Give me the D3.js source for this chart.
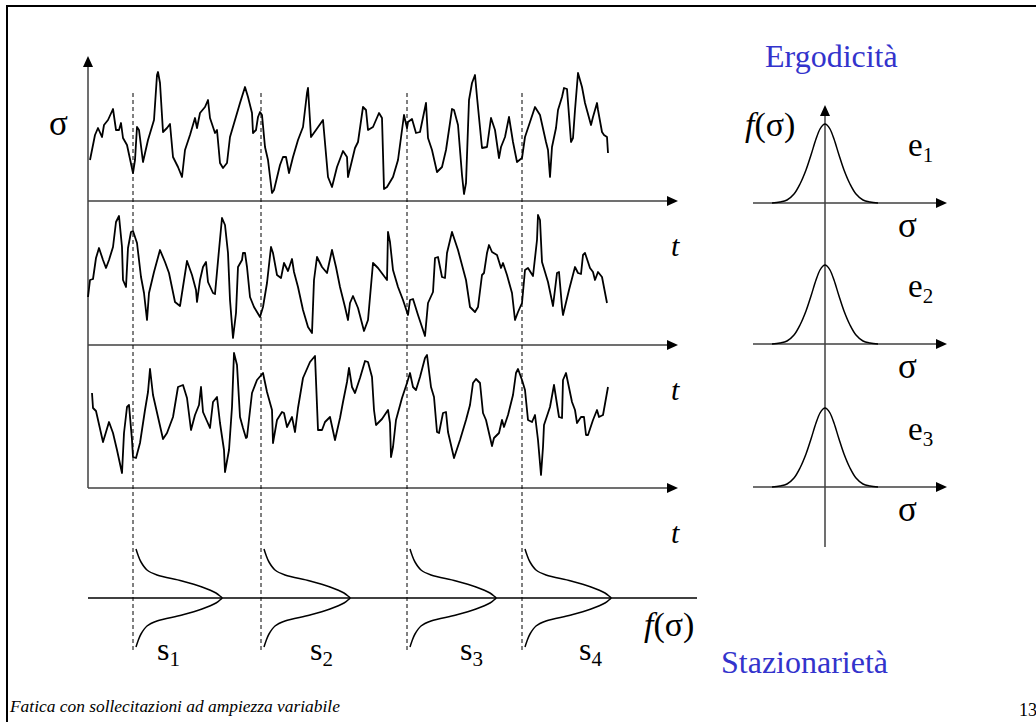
<!DOCTYPE html>
<html>
<head>
<meta charset="utf-8">
<script src="https://cdn.jsdelivr.net/npm/d3@7"></script>
<style>
  body { margin: 0; background: #fff; }
</style>
</head>
<body>
<div class="Graph"></div>
<script>
// signal samples: [t, sigma]
var signal1 = [[2,41],[7,66],[10,73],[14,64],[16,76],[20,81],[25,92],[28,71],[31,71],[33,78],[35,63],[39,56],[45,28],[47,41],[49,74],[51,71],[55,39],[60,61],[66,81],[69,126],[70,129],[72,118],[75,69],[79,73],[82,77],[85,44],[90,34],[94,24],[97,51],[102,66],[107,83],[109,73],[112,88],[117,94],[120,101],[122,83],[127,68],[129,71],[132,38],[135,33],[139,38],[142,64],[147,81],[152,98],[157,114],[160,104],[164,88],[165,68],[168,71],[170,84],[172,89],[174,86],[177,54],[180,41],[184,8],[186,11],[192,36],[195,44],[198,44],[201,28],[205,44],[210,61],[215,74],[219,108],[220,113],[223,64],[228,71],[235,81],[240,24],[244,14],[249,34],[255,50],[259,44],[260,24],[267,53],[270,59],[275,94],[278,91],[280,71],[285,74],[291,88],[294,83],[296,12],[299,14],[305,24],[310,41],[316,86],[319,73],[320,79],[324,82],[328,68],[332,69],[338,98],[340,63],[344,51],[349,29],[354,34],[358,51],[362,78],[364,92],[366,91],[370,76],[374,26],[376,7],[378,18],[381,101],[384,118],[387,126],[389,104],[394,53],[399,54],[403,83],[407,71],[411,43],[413,54],[417,64],[421,84],[425,59],[429,39],[434,43],[437,64],[440,73],[447,94],[452,86],[458,59],[460,51],[462,24],[464,54],[468,73],[470,91],[474,104],[476,113],[479,112],[483,59],[485,63],[487,91],[490,128],[494,114],[497,98],[503,76],[505,84],[509,98],[510,91],[514,69],[516,66],[519,64],[520,48]];

var signal2 = [[0,48],[2,65],[5,66],[8,87],[11,97],[15,85],[18,77],[21,85],[25,98],[28,123],[31,129],[34,98],[35,65],[38,58],[40,97],[43,113],[45,114],[49,102],[53,68],[56,52],[59,25],[61,52],[66,73],[72,95],[77,83],[81,72],[87,43],[92,39],[99,84],[104,70],[108,55],[109,43],[112,65],[115,78],[118,83],[120,63],[125,52],[127,51],[131,95],[134,127],[137,120],[140,92],[142,45],[145,7],[148,32],[150,78],[154,85],[155,92],[157,92],[159,78],[162,48],[166,38],[172,28],[175,38],[179,62],[183,98],[185,92],[189,70],[193,67],[196,82],[200,74],[204,86],[206,73],[210,58],[215,35],[220,18],[224,12],[226,65],[229,88],[234,78],[239,72],[244,95],[248,78],[252,58],[257,38],[260,25],[262,42],[265,49],[270,37],[276,14],[280,25],[285,82],[290,77],[299,65],[300,113],[302,103],[305,75],[310,58],[315,45],[320,30],[322,45],[325,46],[330,30],[337,9],[340,42],[345,53],[347,87],[350,88],[354,68],[357,67],[359,92],[364,113],[370,95],[378,65],[382,38],[387,33],[390,38],[394,70],[396,72],[399,92],[401,100],[404,93],[409,90],[413,77],[415,82],[419,70],[424,52],[427,25],[430,33],[434,42],[437,75],[440,77],[445,69],[449,105],[450,130],[452,125],[454,83],[460,63],[465,39],[469,72],[471,73],[474,38],[475,30],[481,55],[487,78],[490,72],[493,71],[495,90],[497,92],[502,77],[505,73],[507,65],[510,73],[514,68],[519,42]];

var signal3 = [[4,95],[5,80],[8,77],[15,46],[21,66],[25,55],[29,38],[34,15],[36,55],[39,81],[41,83],[44,48],[45,31],[48,30],[52,45],[57,78],[60,96],[62,119],[65,93],[70,71],[75,49],[79,55],[85,71],[90,101],[95,103],[99,90],[103,58],[107,73],[111,83],[113,101],[115,76],[122,60],[125,86],[129,91],[132,65],[136,38],[137,16],[141,38],[144,81],[146,135],[149,123],[152,71],[155,60],[158,50],[159,51],[164,95],[169,108],[175,115],[179,96],[184,78],[185,45],[189,68],[194,76],[196,75],[199,61],[204,71],[207,56],[210,80],[215,110],[222,126],[227,132],[230,58],[234,58],[237,66],[242,71],[247,48],[252,70],[255,86],[259,106],[261,120],[264,101],[267,95],[272,110],[277,127],[280,126],[284,111],[286,78],[288,63],[294,69],[300,78],[302,65],[303,31],[305,41],[308,68],[314,90],[319,105],[322,115],[325,101],[328,98],[332,111],[337,130],[339,133],[343,101],[346,91],[349,56],[351,55],[355,75],[358,76],[360,56],[366,30],[372,48],[378,68],[382,83],[385,105],[388,109],[392,105],[395,75],[398,68],[401,55],[404,42],[406,50],[411,55],[414,68],[416,61],[420,73],[425,93],[428,115],[430,119],[434,108],[437,98],[440,68],[444,66],[447,73],[450,48],[453,13],[455,41],[456,63],[462,81],[466,103],[471,71],[474,70],[475,108],[478,115],[484,86],[487,78],[489,65],[493,71],[496,71],[498,53],[500,53],[505,68],[509,78],[511,71],[515,73],[520,101]];

var signals = [signal1, signal2, signal3];

// sampling instants (t) of the dashed lines and their labels
var sampleTimes = [45, 173, 319, 434];
var sampleLabels = ["1", "2", "3", "4"];

// ensemble density profile (stationarity), sigma offset vs f
var statSigma = [49, 43, 36, 28, 23, 17, 11, 5, 2, 0, -2, -5, -11, -17, -23, -28, -36, -43, -49];
var statDensity = [3, 5, 8, 14, 24, 49, 69, 83, 87, 89, 87, 83, 69, 49, 24, 14, 8, 5, 3];

// time density profile (ergodicity), sigma offset vs f
var ergoSigma = [-53, -45, -38, -31, -25, -19, -14, -9, -5, -2, 0, 2, 5, 9, 14, 19, 25, 31, 38, 45, 53];
var ergoDensity = [0, 1, 3, 9, 19, 33, 48, 64, 74, 78, 79, 78, 74, 64, 48, 33, 19, 9, 3, 1, 0];
var ergoLabels = ["1", "2", "3"];

var W = 1036, H = 722;
var axisCol = "#404040";
var blue = "#3333cc";
var serif = "'Liberation Serif', 'Times New Roman', serif";

var svg = d3.select(".Graph")
    .append("svg")
    .attr("width", W)
    .attr("height", H)
    .attr("font-family", serif)
    .style("display", "block");

svg.append("rect").attr("width", W).attr("height", H).attr("fill", "#fff");

// slide frame
svg.append("path")
    .attr("d", "M7," + H + "V6H" + W)
    .attr("fill", "none")
    .attr("stroke", "#000")
    .attr("stroke-width", 2);

//====================================================================//
// left: three sample functions
var panelY = [201, 345, 488];

var x = d3.scaleLinear().domain([0, 590]).range([88, 678]);

function arrowRight(g, xe, y, col) {
    g.append("path")
        .attr("d", "M" + xe + "," + y + "l-11,-5v10z")
        .attr("fill", col);
}
function arrowUp(g, xc, ye, col) {
    g.append("path")
        .attr("d", "M" + xc + "," + ye + "l-5,11h10z")
        .attr("fill", col);
}

// vertical sigma axis
svg.append("line")
    .attr("x1", 88).attr("x2", 88)
    .attr("y1", 64).attr("y2", panelY[2])
    .attr("stroke", axisCol).attr("stroke-width", 1.5);
arrowUp(svg, 88, 56, "#000");

svg.append("text")
    .attr("x", 49).attr("y", 135)
    .attr("font-size", 35)
    .text("σ");

signals.forEach(function (s, i) {
    var y = d3.scaleLinear().domain([0, 140]).range([panelY[i], panelY[i] - 140]);

    svg.append("line")
        .attr("x1", 88).attr("x2", 668)
        .attr("y1", panelY[i]).attr("y2", panelY[i])
        .attr("stroke", axisCol).attr("stroke-width", 1.5);
    arrowRight(svg, 678, panelY[i], "#000");

    svg.append("path")
        .datum(s)
        .attr("fill", "none")
        .attr("stroke", "#000")
        .attr("stroke-width", 1.8)
        .attr("stroke-linejoin", "round")
        .attr("d", d3.line().x(d => x(d[0])).y(d => y(d[1])));

    svg.append("text")
        .attr("x", 671).attr("y", panelY[i] + 55)
        .attr("font-size", 30)
        .attr("font-style", "italic")
        .text("t");
});

// dashed sampling lines
svg.selectAll(".sample")
    .data(sampleTimes)
    .enter()
    .append("line")
    .attr("class", "sample")
    .attr("x1", d => x(d)).attr("x2", d => x(d))
    .attr("y1", 93).attr("y2", 650)
    .attr("stroke", "#000")
    .attr("stroke-width", 1)
    .attr("stroke-dasharray", "4,3");

//====================================================================//
// bottom: densities across the ensemble
var statY = 598;
var fx = d3.scaleLinear().domain([0, 89]).range([0, 89]);
var sy = d3.scaleLinear().domain([-49, 49]).range([statY + 49, statY - 49]);

svg.append("line")
    .attr("x1", 88).attr("x2", 697)
    .attr("y1", statY).attr("y2", statY)
    .attr("stroke", "#000").attr("stroke-width", 1.5);

var statPts = statSigma.map((s, i) => [s, statDensity[i]]);
sampleTimes.forEach(function (t, k) {
    svg.append("path")
        .datum(statPts)
        .attr("fill", "none")
        .attr("stroke", "#000")
        .attr("stroke-width", 1.5)
        .attr("d", d3.line()
            .curve(d3.curveCatmullRom.alpha(0.5))
            .x(d => x(t) + fx(d[1]))
            .y(d => sy(d[0])));
});

var sLabX = [157, 310, 460, 579];
sampleLabels.forEach(function (l, k) {
    var tx = svg.append("text")
        .attr("x", sLabX[k]).attr("y", 660)
        .attr("font-size", 32)
        .text("s");
    tx.append("tspan").attr("dy", 6).attr("font-size", 21).text(l);
});

var fs = svg.append("text").attr("x", 644).attr("y", 636).attr("font-size", 34);
fs.append("tspan").attr("font-style", "italic").text("f");
fs.append("tspan").text("(σ)");

svg.append("text")
    .attr("x", 721).attr("y", 673)
    .attr("font-size", 32)
    .attr("fill", blue)
    .text("Stazionarietà");

//====================================================================//
// right: densities along time
var ergoY = [203, 344, 487];
var cx = 825;
var ex = d3.scaleLinear().domain([-53, 53]).range([cx - 53, cx + 53]);

svg.append("line")
    .attr("x1", cx).attr("x2", cx)
    .attr("y1", 114).attr("y2", 547)
    .attr("stroke", axisCol).attr("stroke-width", 1.5);
arrowUp(svg, cx, 105, "#000");

var ergoPts = ergoSigma.map((s, i) => [s, ergoDensity[i]]);
ergoY.forEach(function (ay, i) {
    var ey = d3.scaleLinear().domain([0, 79]).range([ay, ay - 79]);

    svg.append("line")
        .attr("x1", 753).attr("x2", 937)
        .attr("y1", ay).attr("y2", ay)
        .attr("stroke", axisCol).attr("stroke-width", 1.5);
    arrowRight(svg, 947, ay, "#000");

    svg.append("path")
        .datum(ergoPts)
        .attr("fill", "none")
        .attr("stroke", "#000")
        .attr("stroke-width", 1.5)
        .attr("d", d3.line()
            .curve(d3.curveCatmullRom.alpha(0.5))
            .x(d => ex(d[0]))
            .y(d => ey(d[1])));

    svg.append("text")
        .attr("x", 898).attr("y", ay + 34)
        .attr("font-size", 35)
        .text("σ");

    var et = svg.append("text")
        .attr("x", 908).attr("y", ay - 47)
        .attr("font-size", 33)
        .text("e");
    et.append("tspan").attr("dy", 6).attr("font-size", 21).text(ergoLabels[i]);
});

var fe = svg.append("text").attr("x", 745).attr("y", 136).attr("font-size", 34);
fe.append("tspan").attr("font-style", "italic").text("f");
fe.append("tspan").text("(σ)");

svg.append("text")
    .attr("x", 765).attr("y", 67)
    .attr("font-size", 32)
    .attr("fill", blue)
    .text("Ergodicità");

//====================================================================//
// footer
svg.append("text")
    .attr("x", 10).attr("y", 712)
    .attr("font-size", 17.4)
    .attr("font-style", "italic")
    .text("Fatica con sollecitazioni ad ampiezza variabile");

svg.append("text")
    .attr("x", 1019).attr("y", 716)
    .attr("font-size", 18)
    .text("13");
</script>
</body>
</html>
